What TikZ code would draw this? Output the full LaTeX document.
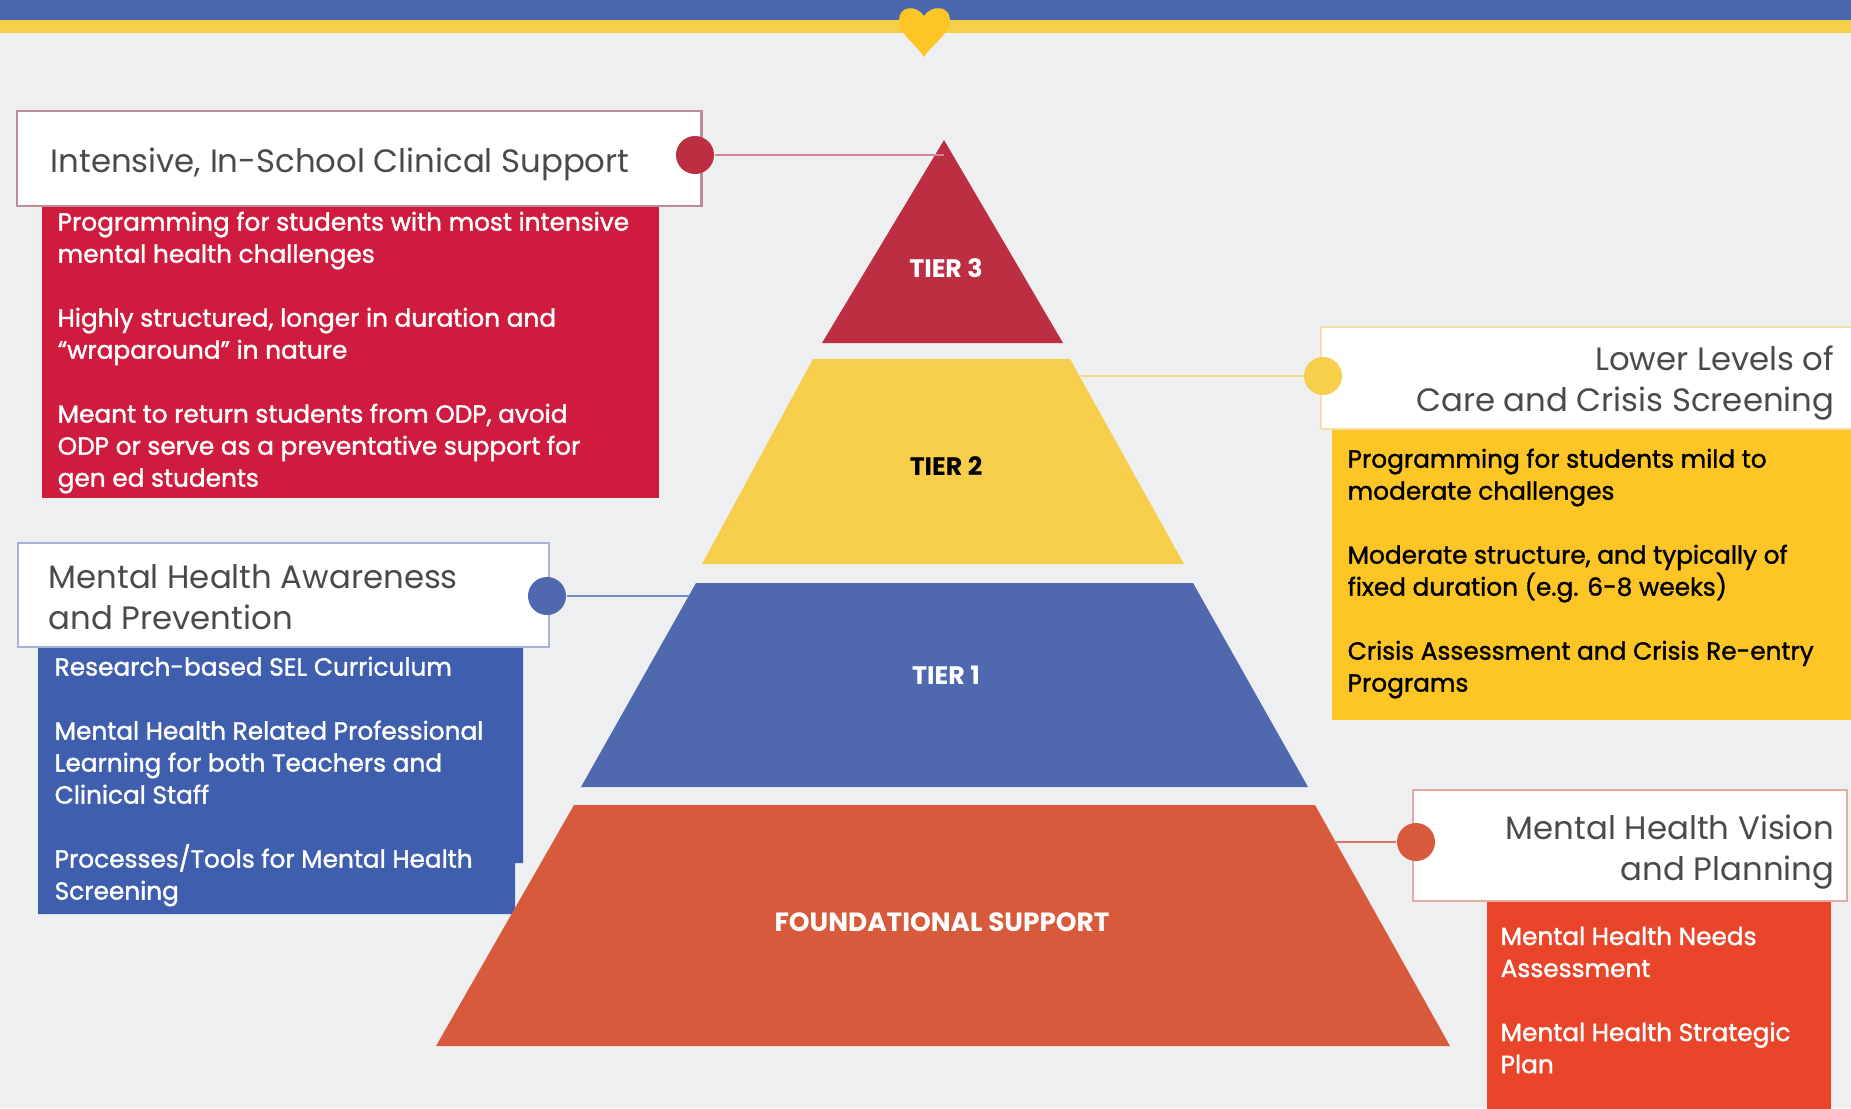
\documentclass[tikz,border=0pt]{standalone}
\usepackage{fontspec}
\setmainfont{Poppins}
\newfontfamily\panelfont[FakeBold=1.4]{Poppins}
\definecolor{pagebg}{HTML}{EEEFF1}
\definecolor{barblue}{HTML}{4A66AC}
\definecolor{baryellow}{HTML}{F6CE4A}
\definecolor{tierthree}{HTML}{BC2E42}
\definecolor{tiertwo}{HTML}{F6CE4C}
\definecolor{tierone}{HTML}{5068AE}
\definecolor{tierbase}{HTML}{D75A3C}
\definecolor{boxthree}{HTML}{CF1C3E}
\definecolor{boxtwo}{HTML}{FDC626}
\definecolor{boxone}{HTML}{3F5FAE}
\definecolor{boxbase}{HTML}{E9452B}
\definecolor{inkgrey}{HTML}{4A4A4A}
\tikzset{
  titlebox/.style={draw, fill=white, line width=0.6pt, anchor=north west, inner sep=0pt},
  titletext/.style={text=inkgrey, inner sep=0pt, align=left, font=\fontsize{9.2}{11.6}\selectfont},
  bodybox/.style={anchor=north west, inner sep=0pt},
  bodytext/.style={anchor=north west, inner sep=0pt, align=left, font=\fontsize{7.05}{9.1}\selectfont\panelfont},
  tierlabel/.style={inner sep=0pt, font=\fontsize{7.2}{9}\selectfont\bfseries},
  dotmark/.style={circle, inner sep=0pt, minimum size=0.38cm},
  linkline/.style={line width=0.8pt},
}
\begin{document}
\begin{tikzpicture}[x=0.01cm, y=-0.01cm]
  \useasboundingbox (0,0) rectangle (1851,1108);
  \fill[pagebg] (0,0) rectangle (1851,1108);

  % Top band and heart
  \fill[barblue] (0,0) rectangle (1851,20);
  \fill[baryellow] (0,20) rectangle (1851,33);
  \fill[boxtwo] (924,16) .. controls (916,4) and (899,6) .. (899,20)
    .. controls (899,34) and (914,42) .. (924,57)
    .. controls (934,42) and (950,34) .. (950,20)
    .. controls (950,6) and (932,4) .. (924,16) -- cycle;

  % Body boxes
  \node[bodybox, fill=boxthree, minimum width=6.17cm, minimum height=2.92cm] (panelthree) at (41,205) {};
  \node[bodybox, fill=boxtwo, minimum width=5.20cm, minimum height=2.91cm] (paneltwo) at (1331,428) {};
  \fill[boxone] (38,646) -- (523,646) -- (523,863) -- (515,863) -- (515,914) -- (38,914) -- cycle;
  \node[bodybox, fill=boxbase, minimum width=3.44cm, minimum height=2.08cm] (panelbase) at (1486,900) {};

  % Pyramid
  \fill[tierthree] (944,140) -- (1063,343) -- (822,343) -- cycle;
  \fill[tiertwo] (813,359) -- (1070,359) -- (1184,564) -- (702,564) -- cycle;
  \fill[tierone] (696,583) -- (1193,583) -- (1308,787) -- (581,787) -- cycle;
  \fill[tierbase] (574,805) -- (1315,805) -- (1450,1046) -- (436,1046) -- cycle;
  \node[tierlabel, text=white] (labelthree) at (946,268) {TIER 3};
  \node[tierlabel, text=black] (labeltwo) at (946,466) {TIER 2};
  \node[tierlabel, text=white] (labelone) at (946,675) {TIER 1};
  \node[tierlabel, text=white, font=\fontsize{7.5}{9}\selectfont\bfseries] (labelbase) at (942,922) {FOUNDATIONAL SUPPORT};

  % Ends of the links on the pyramid
  \coordinate (endthree) at (944,155);
  \coordinate (endtwo) at (1081,376);
  \coordinate (endone) at (689,596);
  \coordinate (endbase) at (1334,842);

  % Title boxes
  \node[titlebox, draw=boxthree!35!pagebg!85!black, minimum width=6.84cm, minimum height=0.95cm] (boxthreetitle) at (16,110) {};
  \node[titlebox, draw=baryellow!45!pagebg, minimum width=5.40cm, minimum height=1.02cm] (boxtwotitle) at (1320,326) {};
  \node[titlebox, draw=tierone!45!pagebg, minimum width=5.31cm, minimum height=1.04cm] (boxonetitle) at (17,542) {};
  \node[titlebox, draw=tierbase!45!pagebg, minimum width=4.34cm, minimum height=1.11cm] (boxbasetitle) at (1412,789) {};

  % Links and dots
  \node[dotmark, fill=tierthree] (dotthree) at (695,155) {};
  \node[dotmark, fill=baryellow] (dottwo) at (1323,376) {};
  \node[dotmark, fill=tierone] (dotone) at (547,596) {};
  \node[dotmark, fill=tierbase] (dotbase) at (1416,842) {};
  \draw[linkline, draw=tierthree!55!pagebg] (dotthree) -- (endthree);
  \draw[linkline, draw=baryellow!70!pagebg] (dottwo) -- (endtwo);
  \draw[linkline, draw=tierone!75!pagebg] (dotone) -- (endone);
  \draw[linkline, draw=tierbase!80!pagebg] (dotbase) -- (endbase);

  % Titles
  \node[titletext, anchor=west] (titlethree) at (50,164) {Intensive, In-School Clinical Support};
  \node[titletext, anchor=east, align=right] (titletwo) at (1835,383) {Lower Levels of\\Care and Crisis Screening};
  \node[titletext, anchor=west] (titleone) at (48,597) {Mental Health Awareness\\and Prevention};
  \node[titletext, anchor=east, align=right] (titlebase) at (1835,852) {Mental Health Vision\\and Planning};

  % Body text
  \node[bodytext, text=white] (textthree) at (57,211) {Programming for students with most intensive\\mental health challenges\\[9.1pt]
    Highly structured, longer in duration and\\“wraparound” in nature\\[9.1pt]
    Meant to return students from ODP, avoid\\ODP or serve as a preventative support for\\gen ed students};
  \node[bodytext, text=black] (texttwo) at (1347,448) {Programming for students mild to\\moderate challenges\\[9.1pt]
    Moderate structure, and typically of\\fixed duration (e.g. 6-8 weeks)\\[9.1pt]
    Crisis Assessment and Crisis Re-entry\\Programs};
  \node[bodytext, text=white] (textone) at (54,656) {Research-based SEL Curriculum\\[9.1pt]
    Mental Health Related Professional\\Learning for both Teachers and\\Clinical Staff\\[9.1pt]
    Processes/Tools for Mental Health\\Screening};
  \node[bodytext, text=white] (textbase) at (1500,926) {Mental Health Needs\\Assessment\\[9.1pt]
    Mental Health Strategic\\Plan};
\end{tikzpicture}
\end{document}
